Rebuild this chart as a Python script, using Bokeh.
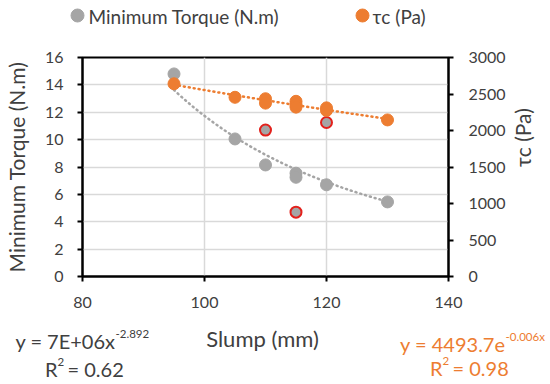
import math
import numpy as np
from bokeh.plotting import figure
from bokeh.layouts import column
from bokeh.models import Range1d, LinearAxis, ColumnDataSource
from bokeh.core.properties import value
from bokeh.embed import file_html
from bokeh.resources import INLINE

# ---- data ----
slump = [95, 105, 110, 110, 115, 115, 115, 120, 120, 130]
torque = [14.8, 10.05, 8.15, 10.7, 7.55, 7.25, 4.7, 6.7, 11.25, 5.45]
torque_flag = [False, False, False, True, False, False, True, False, True, False]
tau = [2640, 2455, 2435, 2375, 2400, 2355, 2320, 2310, 2275, 2145]

x_ticks = [80, 100, 120, 140]
left_ticks = [0, 2, 4, 6, 8, 10, 12, 14, 16]
right_ticks = [0, 500, 1000, 1500, 2000, 2500, 3000]

series_names = ["Minimum Torque (N.m)", "τc (Pa)"]
x_title = "Slump (mm)"

GREY = "#A5A5A5"
ORANGE = "#ED7D31"
RED = "#E3211C"
TXT = "#404040"
FONT = "Lato"
W = 550


def no_align(fig):
    try:
        fig.frame_align = False
    except Exception:
        pass


def strip(h):
    s = figure(width=W, height=h, output_backend="svg", toolbar_location=None,
               x_range=Range1d(0, W), y_range=Range1d(h, 0),
               x_axis_location=None, y_axis_location=None,
               min_border_left=0, min_border_right=0, min_border_top=0, min_border_bottom=0)
    s.grid.visible = False
    s.outline_line_color = None
    no_align(s)
    return s


def txt(fig, x, y, t, size, color=TXT, align="left"):
    fig.text(x=[x], y=[y], text=[t], text_font=value(FONT), text_font_size=size,
             text_color=color, text_align=align, text_baseline="middle")


# ---- legend strip ----
top = strip(30)
top.scatter([77], [15], size=13, fill_color=GREY, line_color=GREY)
txt(top, 88, 16, series_names[0], "19px")
top.scatter([362], [15], size=13, fill_color=ORANGE, line_color=ORANGE)
txt(top, 372, 16, series_names[1], "19px")

# ---- main chart ----
p = figure(width=W, height=288, output_backend="svg", toolbar_location=None,
           x_range=Range1d(80, 140), y_range=Range1d(0, 16),
           min_border_left=81, min_border_right=100, min_border_top=27, min_border_bottom=42)
no_align(p)
p.extra_y_ranges = {"tau": Range1d(0, 3000)}

p.xgrid.ticker = x_ticks
p.ygrid.ticker = left_ticks
p.grid.grid_line_color = "#D9D9D9"
p.grid.grid_line_width = 1.5
p.outline_line_color = "black"
p.outline_line_width = 2

la = p.left[0]
xa = p.below[0]
ra = LinearAxis(y_range_name="tau", ticker=right_ticks, axis_label=series_names[1])
p.add_layout(ra, "right")

for ax in [xa, la, ra]:
    ax.axis_line_width = 2
    ax.major_tick_line_width = 2
    ax.major_tick_out = 5
    ax.major_tick_in = 0
    ax.minor_tick_line_color = None
    ax.major_label_text_font = FONT
    ax.major_label_text_font_size = "16px"
    ax.major_label_text_color = TXT
    ax.axis_label_text_font = FONT
    ax.axis_label_text_font_size = "21px"
    ax.axis_label_text_font_style = "normal"
    ax.axis_label_text_color = TXT

xa.ticker = x_ticks
xa.major_label_standoff = 15
la.ticker = left_ticks
la.axis_label = series_names[0]
la.major_label_standoff = 14
la.axis_label_standoff = 13
ra.major_label_standoff = 15
ra.axis_label_standoff = 14
try:
    ra.axis_label_orientation = math.pi / 2
except Exception:
    pass

# trendlines fitted from the data (power for torque, exponential for tau)
xs = np.array(slump, dtype=float)
b_pow, ln_a_pow = np.polyfit(np.log(xs), np.log(np.array(torque)), 1)
b_exp, ln_a_exp = np.polyfit(xs, np.log(np.array(tau, dtype=float)), 1)
xf = np.linspace(min(slump), max(slump), 80)
p.line(xf, np.exp(ln_a_pow) * xf ** b_pow, line_color=GREY, line_width=2.5, line_dash="1 4", line_cap="round")
p.line(xf, np.exp(ln_a_exp) * np.exp(b_exp * xf), line_color=ORANGE, line_width=2.5, line_dash="1 4",
       line_cap="round", y_range_name="tau")

normal = ColumnDataSource(dict(x=[s for s, f in zip(slump, torque_flag) if not f],
                               y=[t for t, f in zip(torque, torque_flag) if not f]))
flagged = ColumnDataSource(dict(x=[s for s, f in zip(slump, torque_flag) if f],
                                y=[t for t, f in zip(torque, torque_flag) if f]))
p.scatter("x", "y", source=normal, size=12, fill_color=GREY, line_color=GREY)
p.scatter("x", "y", source=flagged, size=11, fill_color=GREY, line_color=RED, line_width=2)
p.scatter(slump, tau, size=12, fill_color=ORANGE, line_color=ORANGE, y_range_name="tau")

# ---- bottom strip: x title and trendline equations ----
bot = strip(64)
txt(bot, 262, 20, x_title, "22px", align="center")
txt(bot, 115, 22, "y = 7E+06x", "20px", align="right")
txt(bot, 115, 15, "-2.892", "11.5px")
txt(bot, 57, 50, "R", "20px", align="right")
txt(bot, 57, 43, "2", "11.5px")
txt(bot, 67, 50, "= 0.62", "20px")
txt(bot, 505, 25, "y = 4493.7e", "20px", color=ORANGE, align="right")
txt(bot, 505, 18, "-0.006x", "11.5px", color=ORANGE)
txt(bot, 442, 49, "R", "20px", color=ORANGE, align="right")
txt(bot, 442, 42, "2", "11.5px", color=ORANGE)
txt(bot, 452, 49, "= 0.98", "20px", color=ORANGE)

layout = column(top, p, bot, spacing=0)
open("out.html", "w").write(file_html(layout, INLINE))
